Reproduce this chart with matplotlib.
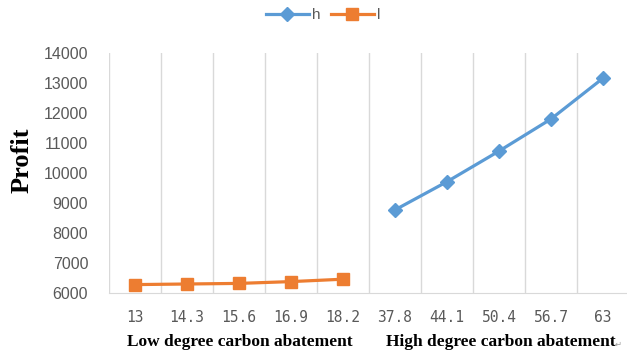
import numpy as np
import matplotlib.pyplot as plt

# abatement levels (x categories) and profit for each scheme
labels = ['13', '14.3', '15.6', '16.9', '18.2', '37.8', '44.1', '50.4', '56.7', '63']
profit_l = [6280, 6300, 6320, 6380, 6460]
profit_h = [8770, 9710, 10730, 11800, 13160]

blue = '#5b9bd5'
orange = '#ed7d31'
grey = '#595959'
gridc = '#d9d9d9'

fig = plt.figure(figsize=(6.27, 3.52), dpi=100)
ax = fig.add_axes([109 / 627, 1 - 293 / 352, 520 / 627, 240 / 352])

x = np.arange(len(labels))
xl = x[:len(profit_l)]
xh = x[len(profit_l):]
ax.plot(xh, profit_h, color=blue, lw=2.3, marker='D', ms=7.5, label='h')
ax.plot(xl, profit_l, color=orange, lw=2.3, marker='s', ms=9, label='l')

ax.set_xlim(-0.5, len(labels) - 0.5)
ax.set_ylim(6000, 14000)
ax.set_yticks(np.arange(6000, 14001, 1000))
ax.set_xticks(x)
ax.set_xticklabels(labels, family='DejaVu Sans Mono', fontsize=10.5, color=grey)
ax.set_xticks(np.arange(-0.5, len(labels)), minor=True)
ax.grid(True, which='minor', axis='x', color=gridc, lw=1)
ax.tick_params(axis='x', which='both', length=0, pad=12)
ax.tick_params(axis='y', length=0, pad=15, labelsize=11.5, labelcolor=grey)
for lab in ax.get_yticklabels():
    lab.set_family('Liberation Sans')
for s in ['top', 'right', 'left']:
    ax.spines[s].set_visible(False)
ax.spines['bottom'].set_color(gridc)

fig.text(22 / 627, 1 - 160 / 352, 'Profit', rotation=90, ha='center', va='center',
         family='Liberation Serif', weight='bold', fontsize=19)
fig.text(240 / 627, 1 - 342 / 352, 'Low degree carbon abatement', ha='center', va='center',
         family='Liberation Serif', weight='bold', fontsize=12.5)
fig.text(501 / 627, 1 - 342 / 352, 'High degree carbon abatement', ha='center', va='center',
         family='Liberation Serif', weight='bold', fontsize=12.5)
fig.text(618 / 627, 1 - 344 / 352, '↵', ha='center', va='center', color='#a0a0a0', fontsize=6)

fig.legend(loc='center', bbox_to_anchor=(323 / 627, 1 - 15 / 352), ncol=2, frameon=False,
           labelcolor=grey, handlelength=2.8, handletextpad=0.2, columnspacing=0.7,
           prop={'family': 'Liberation Sans', 'size': 11})

fig.savefig('out.png', dpi=100)
